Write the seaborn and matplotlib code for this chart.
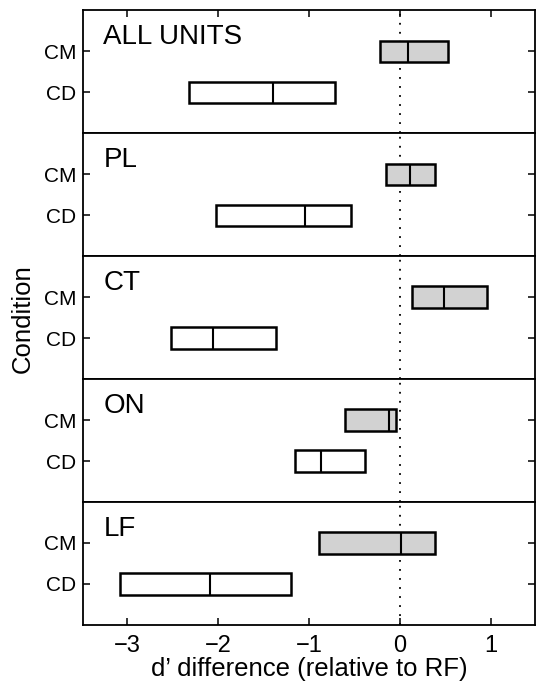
import numpy as np
import pandas as pd
import seaborn as sns
import matplotlib
matplotlib.use('Agg')
import matplotlib.pyplot as plt

# quartiles (d' difference relative to RF)
panels = ['ALL UNITS', 'PL', 'CT', 'ON', 'LF']
conditions = ['CM', 'CD']
cm_q1 = [-0.22, -0.15, 0.13, -0.60, -0.89]
cm_med = [0.09, 0.11, 0.48, -0.12, 0.01]
cm_q3 = [0.53, 0.38, 0.95, -0.04, 0.38]
cd_q1 = [-2.32, -2.02, -2.51, -1.15, -3.08]
cd_med = [-1.40, -1.04, -2.05, -0.87, -2.09]
cd_q3 = [-0.71, -0.54, -1.36, -0.38, -1.20]
xticks = [-3, -2, -1, 0, 1]

sns.set_theme(style='white')
plt.rcParams['font.family'] = ['Liberation Sans', 'DejaVu Sans']
plt.rcParams['text.color'] = 'black'
plt.rcParams['axes.labelcolor'] = 'black'

# long-form table: q1, q1, median, q3, q3 gives exactly these quartiles
rows = []
for i, p in enumerate(panels):
    for cond, q1, med, q3 in [('CM', cm_q1[i], cm_med[i], cm_q3[i]),
                              ('CD', cd_q1[i], cd_med[i], cd_q3[i])]:
        for v in [q1, q1, med, q3, q3]:
            rows.append({'panel': p, 'condition': cond, 'value': v})
df = pd.DataFrame(rows)

fig, axes = plt.subplots(5, 1, figsize=(5.36, 6.86), dpi=100, sharex=True)
fig.subplots_adjust(left=0.155, right=0.998, top=0.985, bottom=0.089, hspace=0)

for i, (ax, p) in enumerate(zip(axes, panels)):
    sub = df[df['panel'] == p]
    sns.boxplot(data=sub, x='value', y='condition', hue='condition', order=conditions,
                palette={'CM': '#d2d2d2', 'CD': 'white'}, orient='h', width=0.52,
                whis=0, showcaps=False, showfliers=False, legend=False,
                linecolor='black', linewidth=1.8, ax=ax,
                medianprops={'color': 'black', 'linewidth': 1.5},
                whiskerprops={'linewidth': 0})
    ax.axvline(0, color='black', linestyle=(0, (1, 4)), linewidth=1.3, zorder=0)
    ax.set_ylim(2, -1)
    ax.set_xlim(-3.48, 1.48)
    ax.set_xticks(xticks)
    ax.set_ylabel('')
    ax.set_xlabel('')
    ax.text(0.045, 0.78, p, transform=ax.transAxes, fontsize=20, va='center', ha='left')
    for s in ax.spines.values():
        s.set_color('black')
        s.set_linewidth(1.3)
    ax.tick_params(axis='y', direction='in', left=True, right=True, length=5,
                   width=1.1, labelsize=15, pad=5, colors='black')
    ax.tick_params(axis='x', direction='in', top=(i == 0), bottom=(i == len(panels) - 1),
                   length=5, width=1.1, labelsize=17, pad=7, colors='black')

axes[-1].set_xlabel('d\u2019 difference (relative to RF)', fontsize=18.5, labelpad=0)
fig.text(0.043, 0.535, 'Condition', rotation=90, fontsize=18.5, ha='center', va='center')

fig.savefig('out.png', dpi=100)
